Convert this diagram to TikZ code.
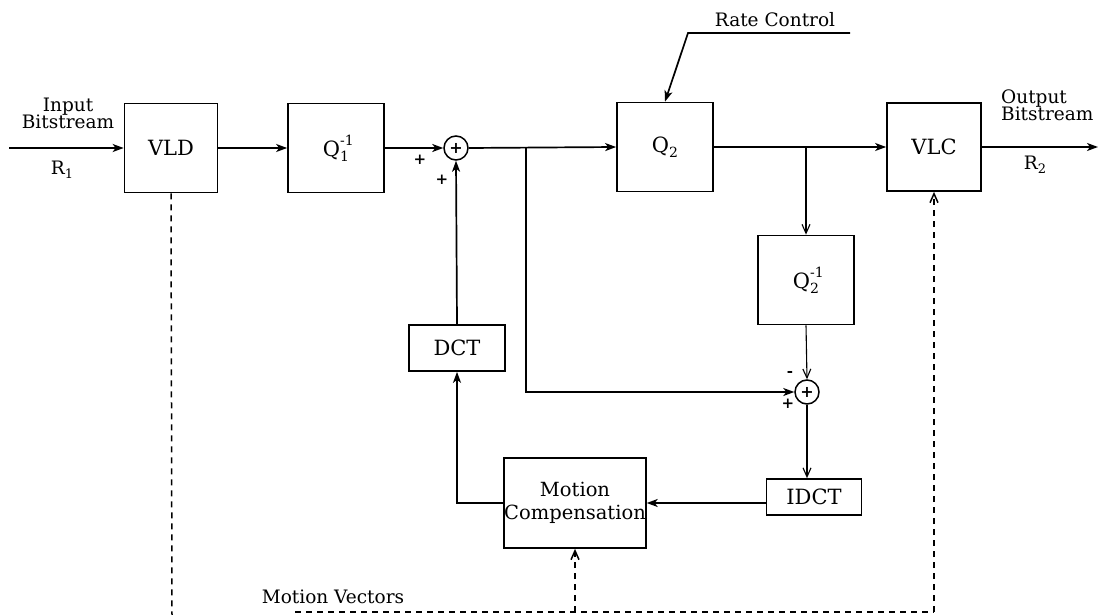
\documentclass[tikz,border=0pt]{standalone}
\usepackage{fontspec}
\setmainfont{DejaVu Serif}
\usetikzlibrary{arrows.meta}
\newcommand{\Qlab}[2]{Q\makebox[0pt][l]{\raisebox{11pt}{\fontsize{14}{14}\selectfont #2}}\raisebox{-5pt}{\fontsize{14}{14}\selectfont #1}}
\begin{document}
\begin{tikzpicture}[x=1pt,y=-1pt,
  blk/.style={draw,line width=1.7pt,inner sep=0pt,font=\fontsize{21}{23}\selectfont},
  ann/.style={font=\fontsize{18.5}{21}\selectfont,inner sep=0pt},
  sgn/.style={font=\fontsize{15}{15}\selectfont\bfseries,inner sep=0pt},
  sumn/.style={draw,circle,line width=1.5pt,minimum size=24pt,inner sep=0pt,font=\fontsize{16}{16}\selectfont\bfseries},
  arr/.style={line width=1.7pt,-{Stealth[length=11pt,width=8pt,inset=3pt]}},
  thinarr/.style={line width=1.1pt,-{Straight Barb[length=9pt,width=8pt]}},
  dsh/.style={line width=1.5pt,dash pattern=on 6pt off 5pt},
  barb/.style={-{Straight Barb[length=9pt,width=8pt]}}]
\useasboundingbox (0,0) rectangle (1099,615);

% main blocks
\node[blk,minimum width=93pt,minimum height=89pt] (vld) at (171,148) {VLD};
\node[blk,minimum width=96pt,minimum height=89pt] (q1i) at (336,148) {\Qlab{1}{-1}};
\node[sumn] (s1) at (456,148) {+};
\node[blk,minimum width=96pt,minimum height=89pt] (q2) at (665,147) {\Qlab{2}{}};
\node[blk,minimum width=94pt,minimum height=88pt] (vlc) at (934,147) {VLC};
\node[blk,minimum width=96pt,minimum height=89pt] (q2i) at (806,280) {\Qlab{2}{-1}};
\node[sumn] (s2) at (807,392) {+};
\node[blk,minimum width=96pt,minimum height=46pt] (dct) at (457,348) {DCT};
\node[blk,minimum width=95pt,minimum height=36pt] (idct) at (814,497) {IDCT};
\node[blk,minimum width=140pt,minimum height=90pt,align=center,font=\fontsize{19.5}{23}\selectfont] (mc) at (575,503) {Motion\\Compensation};

% annotations
\node[ann,align=center] (inlab) at (68,113) {Input\\[-4pt]Bitstream};
\node[ann] (r1) at (62,170) {R\raisebox{-4pt}{\fontsize{13}{13}\selectfont 1}};
\node[ann,align=left,anchor=west] (outlab) at (1001,105) {Output\\[-4pt]Bitstream};
\node[ann] (r2) at (1035,165) {R\raisebox{-4pt}{\fontsize{13}{13}\selectfont 2}};
\node[ann] (rclab) at (775,20) {Rate Control};
\node[ann] (mvlab) at (333,597) {Motion Vectors};

% signs
\node[sgn] (p1) at (420,160) {+};
\node[sgn] (p2) at (442,180) {+};
\node[sgn] (m3) at (790,374) {-};
\node[sgn] (p4) at (788,404) {+};

% coordinates
\coordinate (in) at (9,148);
\coordinate (out) at (1098,147);
\coordinate (b1) at (526,147);
\coordinate (b2) at (806,147);
\coordinate (rc) at (850,33);
\coordinate (rcb) at (688,33);
\coordinate (vb) at (172,615);
\coordinate (mvs) at (295,612);
\coordinate (mvm) at (575,612);
\coordinate (mvr) at (934,612);

% main path
\draw[arr] (in) -- (vld.west |- in);
\draw[arr] (vld.east) -- (q1i.west);
\draw[arr] (q1i.east) -- (s1.west);
\draw[arr] (s1.east) -- (q2.west);
\draw[arr] (q2.east) -- (vlc.west);
\draw[arr] (vlc.east) -- (out);
\draw[arr] (rc) -- (rcb) -- (q2.north);

% feedback
\draw[thinarr] (b2) -- (q2i.north);
\draw[thinarr] (q2i.south) -- (s2.north);
\draw[thinarr] (s2.south) -- (s2.south |- idct.north);
\draw[arr] (b1) |- (s2.west);
\draw[arr] (idct.west |- mc.east) -- (mc.east);
\draw[arr] (mc.west) -| (dct.south);
\draw[arr] (dct.north) -- (s1.south);

% motion vectors
\draw[dsh] (vld.south) -- (vb);
\draw[dsh] (mvs) -- (mvm) -- (mvr);
\draw[dsh,barb] (mvm) -- (mc.south);
\draw[dsh,barb] (mvr) -- (vlc.south);
\end{tikzpicture}
\end{document}
